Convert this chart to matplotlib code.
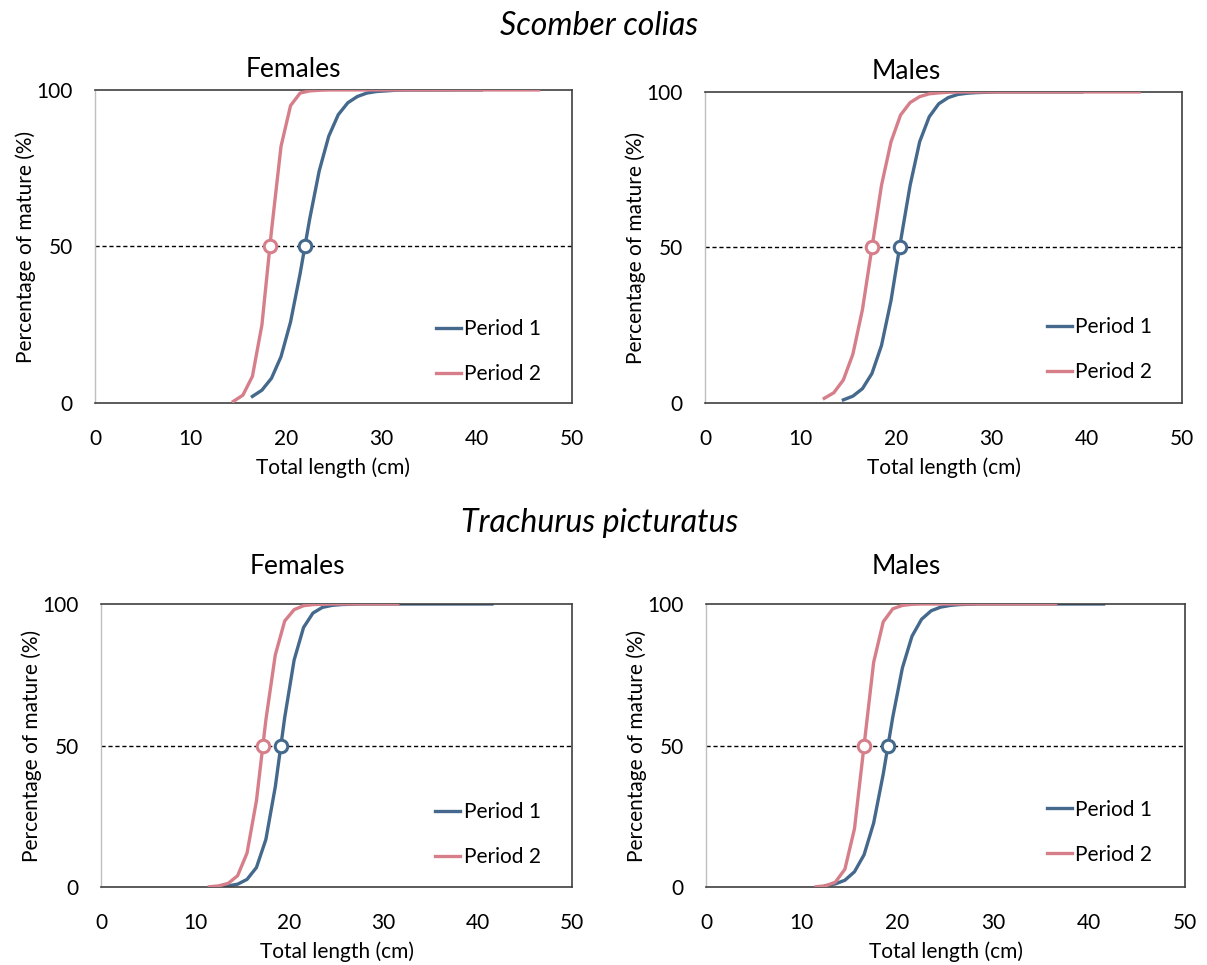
import matplotlib.pyplot as plt

plt.rcParams['font.family'] = ['Lato', 'DejaVu Sans']

# Scomber colias - females
sc_f_len1 = [16.5, 17.5, 18.5, 19.5, 20.5, 21.5, 22.5, 23.5, 24.5, 25.5, 26.5, 27.5, 28.5, 29.5, 30.5, 31.5, 32.5, 40.5]
sc_f_pct1 = [2.1, 4.1, 7.9, 14.8, 25.9, 41.3, 58.7, 74.1, 85.2, 92.1, 95.9, 97.9, 99.0, 99.5, 99.7, 99.9, 99.95, 100]
sc_f_len2 = [14.5, 15.5, 16.5, 17.5, 18.5, 19.5, 20.5, 21.5, 22.5, 23.5, 24.5, 46.5]
sc_f_pct2 = [0.5, 2.5, 8.5, 25.0, 55.0, 82.0, 95.0, 99.0, 99.7, 99.9, 100, 100]
sc_f_l50 = [22.0, 18.3]

# Scomber colias - males
sc_m_len1 = [14.5, 15.5, 16.5, 17.5, 18.5, 19.5, 20.5, 21.5, 22.5, 23.5, 24.5, 25.5, 26.5, 27.5, 28.5, 29.5, 30.5, 39.5]
sc_m_pct1 = [1.0, 2.2, 4.6, 9.5, 18.5, 33.0, 52.0, 70.0, 84.0, 92.0, 96.2, 98.2, 99.2, 99.6, 99.8, 99.9, 100, 100]
sc_m_len2 = [12.5, 13.5, 14.5, 15.5, 16.5, 17.5, 18.5, 19.5, 20.5, 21.5, 22.5, 23.5, 24.5, 25.5, 26.5, 45.5]
sc_m_pct2 = [1.5, 3.3, 7.4, 15.7, 30.0, 50.0, 70.0, 84.0, 92.6, 96.6, 98.5, 99.4, 99.7, 99.9, 100, 100]
sc_m_l50 = [20.4, 17.5]

# Trachurus picturatus - females
tp_f_len1 = [12.5, 13.5, 14.5, 15.5, 16.5, 17.5, 18.5, 19.5, 20.5, 21.5, 22.5, 23.5, 24.5, 25.5, 26.5, 27.5, 41.5]
tp_f_pct1 = [0.1, 0.4, 1.0, 2.7, 6.9, 16.8, 35.4, 59.9, 80.2, 91.7, 96.8, 98.8, 99.5, 99.8, 99.9, 100, 100]
tp_f_len2 = [11.5, 12.5, 13.5, 14.5, 15.5, 16.5, 17.5, 18.5, 19.5, 20.5, 21.5, 22.5, 23.5, 24.5, 31.5]
tp_f_pct2 = [0.1, 0.4, 1.3, 4.0, 12.0, 30.5, 59.0, 82.0, 94.0, 98.0, 99.4, 99.8, 99.9, 100, 100]
tp_f_l50 = [19.1, 17.2]

# Trachurus picturatus - males
tp_m_len1 = [12.5, 13.5, 14.5, 15.5, 16.5, 17.5, 18.5, 19.5, 20.5, 21.5, 22.5, 23.5, 24.5, 25.5, 26.5, 27.5, 28.5, 41.5]
tp_m_pct1 = [0.5, 1.1, 2.4, 5.4, 11.4, 22.6, 39.9, 60.1, 77.4, 88.6, 94.6, 97.6, 98.9, 99.5, 99.8, 99.9, 100, 100]
tp_m_len2 = [11.5, 12.5, 13.5, 14.5, 15.5, 16.5, 17.5, 18.5, 19.5, 20.5, 21.5, 22.5, 36.5]
tp_m_pct2 = [0.1, 0.45, 1.7, 6.3, 20.6, 50.0, 79.4, 93.7, 98.3, 99.5, 99.9, 100, 100]
tp_m_l50 = [19.0, 16.5]

x_ticks = [0, 10, 20, 30, 40, 50]
y_ticks = [0, 50, 100]
series_names = ['Period 1', 'Period 2']
blue = '#44698C'
pink = '#D67E8A'

# rect, legend anchor (axes fraction), data
panels = [
    ([0.0787, 0.5824, 0.3952, 0.3244], (0.714, 0.165), sc_f_len1, sc_f_pct1, sc_f_len2, sc_f_pct2, sc_f_l50),
    ([0.5841, 0.5824, 0.3952, 0.3223], (0.717, 0.172), sc_m_len1, sc_m_pct1, sc_m_len2, sc_m_pct2, sc_m_l50),
    ([0.0837, 0.0808, 0.3902, 0.2933], (0.710, 0.184), tp_f_len1, tp_f_pct1, tp_f_len2, tp_f_pct2, tp_f_l50),
    ([0.5849, 0.0808, 0.3969, 0.2933], (0.712, 0.194), tp_m_len1, tp_m_pct1, tp_m_len2, tp_m_pct2, tp_m_l50),
]

fig = plt.figure(figsize=(12.07, 9.65), dpi=100)

for rect, anchor, l1, p1, l2, p2, l50 in panels:
    ax = fig.add_axes(rect)
    ax.axhline(50, color='black', lw=1, ls=(0, (3, 2)), zorder=1)
    ax.plot(l1, p1, color=blue, lw=2.4, label=series_names[0], zorder=2)
    ax.plot(l2, p2, color=pink, lw=2.4, label=series_names[1], zorder=3)
    ax.plot([l50[0]], [50], 'o', ms=9, mfc='white', mec=blue, mew=2.2, zorder=4)
    ax.plot([l50[1]], [50], 'o', ms=9, mfc='white', mec=pink, mew=2.2, zorder=5)
    ax.set_xlim(0, 50)
    ax.set_ylim(0, 100)
    ax.set_xticks(x_ticks)
    ax.set_yticks(y_ticks)
    ax.tick_params(length=0, labelsize=15)
    ax.tick_params(axis='x', pad=19)
    ax.tick_params(axis='y', pad=16)
    for s in ['top', 'right', 'bottom']:
        ax.spines[s].set_color('#404040')
        ax.spines[s].set_linewidth(1.2)
    ax.spines['left'].set_color('#BFBFBF')
    ax.spines['left'].set_linewidth(1)
    ax.set_xlabel('Total length (cm)', fontsize=15, labelpad=6)
    ax.set_ylabel('Percentage of mature (%)', fontsize=15, labelpad=0)
    ax.legend(loc='center left', bbox_to_anchor=anchor, frameon=False, fontsize=15,
              handlelength=1.2, handletextpad=0.15, labelspacing=1.2,
              borderpad=0, borderaxespad=0)

fig.text(0.496, 0.9637, 'Scomber colias', fontsize=23, style='italic', ha='center', va='baseline')
fig.text(0.497, 0.4487, 'Trachurus picturatus', fontsize=23, style='italic', ha='center', va='baseline')
fig.text(0.243, 0.9202, 'Females', fontsize=19, ha='center', va='baseline')
fig.text(0.751, 0.918, 'Males', fontsize=19, ha='center', va='baseline')
fig.text(0.246, 0.405, 'Females', fontsize=19, ha='center', va='baseline')
fig.text(0.751, 0.405, 'Males', fontsize=19, ha='center', va='baseline')

fig.savefig('out.png', dpi=100)
